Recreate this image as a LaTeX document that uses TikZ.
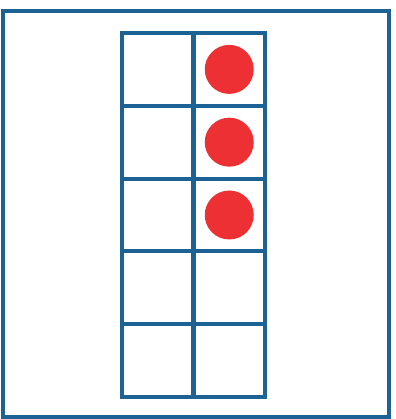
\documentclass[tikz,border=0pt]{standalone}
\usetikzlibrary{positioning}

\definecolor{frameblue}{RGB}{28,98,148}
\definecolor{dotred}{RGB}{236,48,52}

\begin{document}
\begin{tikzpicture}[
        cell/.style={rectangle, draw=frameblue, line width=2.3pt, minimum width=1.43cm, minimum height=1.456cm, outer sep=0pt, inner sep=0pt},
        counter/.style={circle, fill=dotred, minimum size=0.98cm, inner sep=0pt},
        border/.style={draw=frameblue, line width=2pt}
        ]
        \useasboundingbox (0,0) rectangle (7.9,-8.38);
        \draw[border] (0.06,-0.22) rectangle (7.78,-8.34);

        % ten frame, two columns of five
        \node[cell] (l1) at (3.155,-1.388) {};
        \node[cell, right=0pt of l1] (r1) {};
        \foreach \r [remember=\r as \p (initially 1)] in {2,...,5} {
            \node[cell, below=0pt of l\p] (l\r) {};
            \node[cell, right=0pt of l\r] (r\r) {};
        }

        % counters
        \foreach \r in {1,2,3}
            \node[counter] (dot\r) at (r\r) {};
    \end{tikzpicture}
\end{document}
